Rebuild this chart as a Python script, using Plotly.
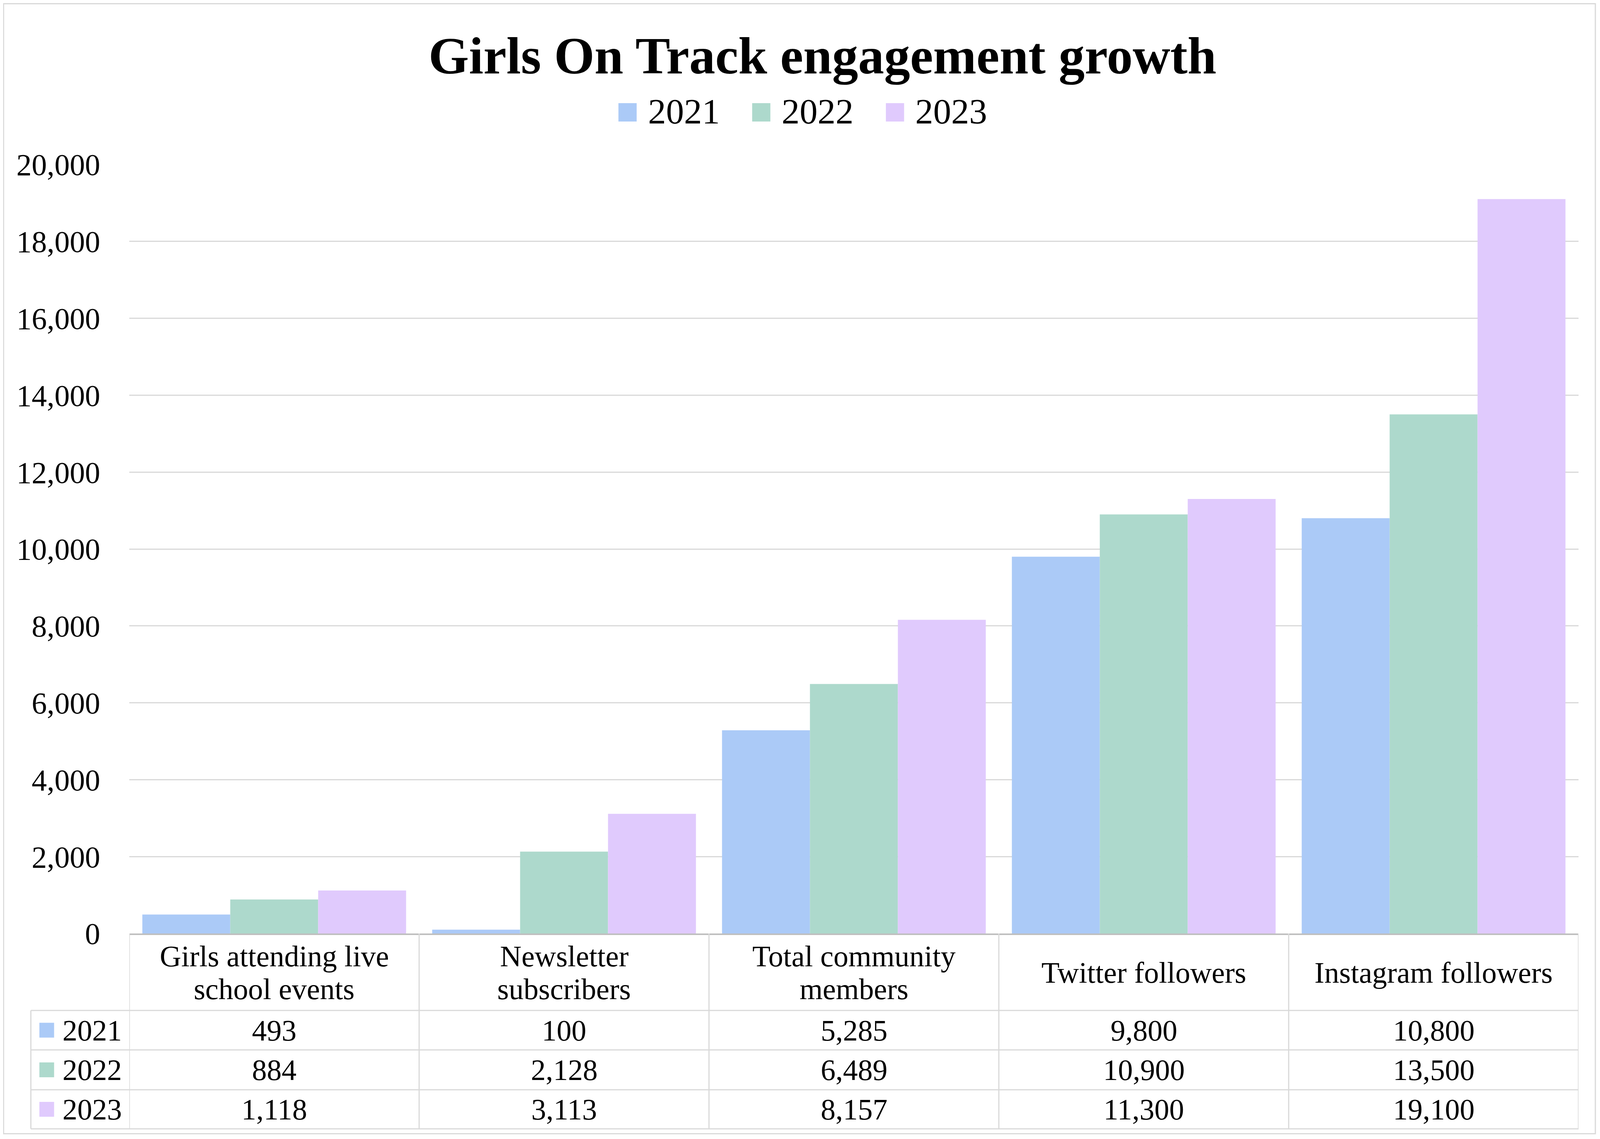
import plotly.graph_objects as go

categories = [
    "Girls attending live<br>school events",
    "Newsletter<br>subscribers",
    "Total community<br>members",
    "Twitter followers",
    "Instagram followers",
]
years = ["2021", "2022", "2023"]
values_2021 = [493, 100, 5285, 9800, 10800]
values_2022 = [884, 2128, 6489, 10900, 13500]
values_2023 = [1118, 3113, 8157, 11300, 19100]
colors = ["#ABCAF7", "#ADD9CC", "#E0CAFD"]
title = "Girls On Track engagement growth"

series = [values_2021, values_2022, values_2023]

# positions are taken in pixels of the 4126x2915 reference; the page shows
# about 4094px across, so x is scaled down by K, and the body keeps its 8px margin
OFF = 8
K = 4094 / 4126
W, H = 4078, 2895
L, R, T, B = 334, 4073, 421, 2389
FONT = "Liberation Serif"
GRID = "#d9d9d9"

ML = L * K - OFF
MR = W - (R * K - OFF)
MT = T - OFF
MB = H - (B - OFF)


def px(x):
    return (x - L) / (R - L)


def py(y):
    return (B - y) / (B - T)


def edge_x(f):
    # figure pixel -> paper x
    return (f - ML) / (W - ML - MR)


def edge_y(f):
    # figure pixel (from top) -> paper y
    return (H - MB - f) / (H - MT - MB)


fig = go.Figure()
for name, vals, col in zip(years, series, colors):
    fig.add_trace(go.Bar(x=list(range(len(categories))), y=vals, name=name,
                         marker=dict(color=col, line=dict(width=0))))

shapes = []
annotations = []

# outer border
shapes.append(dict(type="rect", xref="paper", yref="paper",
                   x0=edge_x(1.5), x1=edge_x(W - 1.5), y0=edge_y(H - 1.5), y1=edge_y(1.5),
                   line=dict(color=GRID, width=3)))

# title
annotations.append(dict(text="<b>%s</b>" % title, xref="paper", yref="paper",
                        x=px(2122), y=py(143), xanchor="center", yanchor="middle",
                        showarrow=False, font=dict(size=133, family=FONT, color="black")))

# legend (drawn by hand so the swatches are the right size)
for k, name in enumerate(years):
    sx = 1596 + k * 345
    shapes.append(dict(type="rect", xref="paper", yref="paper",
                       x0=px(sx), x1=px(sx + 47), y0=py(311), y1=py(264),
                       fillcolor=colors[k], line=dict(width=0)))
    annotations.append(dict(text=name, xref="paper", yref="paper",
                            x=px(sx + 74), y=py(285), xanchor="left", yanchor="middle",
                            showarrow=False, font=dict(size=92, family=FONT, color="black")))

# data table under the axis
row_lines = [2586, 2687, 2789, 2889]
for yl in row_lines:
    shapes.append(dict(type="line", xref="paper", yref="paper",
                       x0=px(80), x1=px(R), y0=py(yl), y1=py(yl),
                       line=dict(color=GRID, width=3)))
shapes.append(dict(type="line", xref="paper", yref="paper",
                   x0=px(80), x1=px(80), y0=py(2889), y1=py(2586),
                   line=dict(color=GRID, width=3)))
for i in range(len(categories) + 1):
    shapes.append(dict(type="line", xref="x", yref="paper",
                       x0=i - 0.5, x1=i - 0.5, y0=py(2889), y1=py(B),
                       line=dict(color=GRID, width=3)))

# header cells
for i, cat in enumerate(categories):
    lines = cat.split("<br>")
    n = len(lines)
    for j, line in enumerate(lines):
        yc = 2489 + (j - (n - 1) / 2) * 84
        annotations.append(dict(text=line, xref="x", yref="paper", x=i, y=py(yc),
                                xanchor="center", yanchor="middle", showarrow=False,
                                font=dict(size=76, family=FONT, color="black")))

# value rows
for k, (name, vals) in enumerate(zip(years, series)):
    yc = (row_lines[k] + row_lines[k + 1]) / 2
    shapes.append(dict(type="rect", xref="paper", yref="paper",
                       x0=px(102), x1=px(140), y0=py(yc + 19), y1=py(yc - 19),
                       fillcolor=colors[k], line=dict(width=0)))
    annotations.append(dict(text=name, xref="paper", yref="paper", x=px(160), y=py(yc),
                            xanchor="left", yanchor="middle", showarrow=False,
                            font=dict(size=76, family=FONT, color="black")))
    for i, v in enumerate(vals):
        annotations.append(dict(text=f"{v:,}", xref="x", yref="paper", x=i, y=py(yc),
                                xanchor="center", yanchor="middle", showarrow=False,
                                font=dict(size=76, family=FONT, color="black")))

fig.update_layout(
    width=W, height=H,
    margin=dict(l=ML, r=MR, t=MT, b=MB, pad=0),
    paper_bgcolor="white", plot_bgcolor="white",
    font=dict(family=FONT, color="black"),
    barmode="group", bargap=0.09, bargroupgap=0,
    showlegend=False,
    shapes=shapes, annotations=annotations,
    xaxis=dict(range=[-0.5, len(categories) - 0.5], showticklabels=False,
               showgrid=False, zeroline=False, showline=True,
               linecolor="#bfbfbf", linewidth=4, ticks=""),
    yaxis=dict(range=[0, 20000], dtick=2000, tickformat=",d",
               showgrid=True, gridcolor=GRID, gridwidth=3,
               zeroline=False, showline=False,
               ticks="outside", ticklen=58, tickcolor="rgba(0,0,0,0)",
               tickfont=dict(size=78, family=FONT, color="black")),
)

fig.write_html("out.html")
